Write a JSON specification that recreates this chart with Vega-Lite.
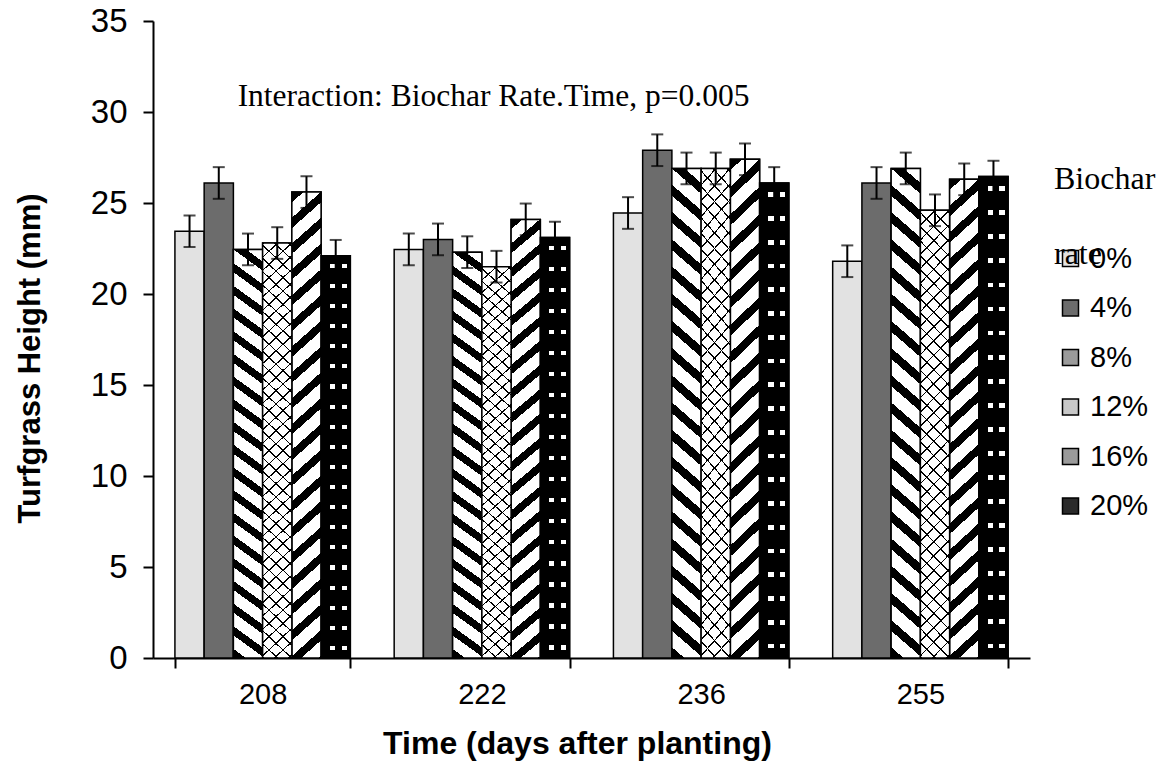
{
  "$schema": "https://vega.github.io/schema/vega-lite/v6.json",
  "width": 877,
  "height": 637,
  "autosize": {"type": "none"},
  "padding": {"left": 153, "top": 21, "right": 131, "bottom": 103},
  "config": {
    "view": {"stroke": null},
    "font": "Liberation Sans",
    "axis": {
      "grid": false,
      "domainColor": "black",
      "domainWidth": 2,
      "tickColor": "black",
      "tickWidth": 2,
      "tickSize": 10,
      "labelColor": "black",
      "titleColor": "black",
      "labelFont": "Liberation Sans",
      "titleFont": "Liberation Sans",
      "labelFontSize": 29,
      "titleFontSize": 31,
      "titleFontWeight": "bold"
    }
  },
  "data": {
    "values": [
      {"time": "208", "rate": "0%", "height": 23.45, "lo": 22.58, "hi": 24.32},
      {"time": "208", "rate": "4%", "height": 26.1, "lo": 25.23, "hi": 26.97},
      {"time": "208", "rate": "8%", "height": 22.45, "lo": 21.58, "hi": 23.32},
      {"time": "208", "rate": "12%", "height": 22.8, "lo": 21.93, "hi": 23.67},
      {"time": "208", "rate": "16%", "height": 25.6, "lo": 24.73, "hi": 26.47},
      {"time": "208", "rate": "20%", "height": 22.1, "lo": 21.23, "hi": 22.97},
      {"time": "222", "rate": "0%", "height": 22.45, "lo": 21.58, "hi": 23.32},
      {"time": "222", "rate": "4%", "height": 23.0, "lo": 22.13, "hi": 23.87},
      {"time": "222", "rate": "8%", "height": 22.3, "lo": 21.43, "hi": 23.17},
      {"time": "222", "rate": "12%", "height": 21.5, "lo": 20.63, "hi": 22.37},
      {"time": "222", "rate": "16%", "height": 24.1, "lo": 23.23, "hi": 24.97},
      {"time": "222", "rate": "20%", "height": 23.1, "lo": 22.23, "hi": 23.97},
      {"time": "236", "rate": "0%", "height": 24.45, "lo": 23.58, "hi": 25.32},
      {"time": "236", "rate": "4%", "height": 27.9, "lo": 27.03, "hi": 28.77},
      {"time": "236", "rate": "8%", "height": 26.9, "lo": 26.03, "hi": 27.77},
      {"time": "236", "rate": "12%", "height": 26.9, "lo": 26.03, "hi": 27.77},
      {"time": "236", "rate": "16%", "height": 27.4, "lo": 26.53, "hi": 28.27},
      {"time": "236", "rate": "20%", "height": 26.1, "lo": 25.23, "hi": 26.97},
      {"time": "255", "rate": "0%", "height": 21.8, "lo": 20.93, "hi": 22.67},
      {"time": "255", "rate": "4%", "height": 26.1, "lo": 25.23, "hi": 26.97},
      {"time": "255", "rate": "8%", "height": 26.9, "lo": 26.03, "hi": 27.77},
      {"time": "255", "rate": "12%", "height": 24.6, "lo": 23.73, "hi": 25.47},
      {"time": "255", "rate": "16%", "height": 26.3, "lo": 25.43, "hi": 27.17},
      {"time": "255", "rate": "20%", "height": 26.45, "lo": 25.58, "hi": 27.32}
    ]
  },
  "layer": [
    {
      "encoding": {
        "x": {
          "field": "time",
          "type": "ordinal",
          "scale": {"paddingInner": 0.2, "paddingOuter": 0.1},
          "axis": {
            "title": "Time (days after planting)",
            "labelAngle": 0,
            "tickBand": "extent",
            "labelPadding": 12,
            "titleFontSize": 32,
            "titleX": 424,
            "titleY": 85,
            "titleBaseline": "middle",
            "titleAlign": "center"
          }
        },
        "xOffset": {
          "field": "rate",
          "type": "nominal",
          "scale": {"domain": ["0%", "4%", "8%", "12%", "16%", "20%"], "paddingInner": 0, "paddingOuter": 0}
        }
      },
      "layer": [
        {
          "mark": {"type": "bar", "stroke": "black", "strokeWidth": 1.5},
          "encoding": {
            "y": {
              "field": "height",
              "type": "quantitative",
              "scale": {"domain": [0, 35], "nice": false},
              "axis": {
                "title": "Turfgrass Height (mm)",
                "values": [0, 5, 10, 15, 20, 25, 30, 35],
                "labelFontSize": 33,
                "labelPadding": 16,
                "titleX": -123,
                "titleY": 337,
                "titleBaseline": "middle",
                "titleAlign": "center"
              }
            },
            "fill": {
              "field": "rate",
              "type": "nominal",
              "scale": {
                "domain": ["0%", "4%", "8%", "12%", "16%", "20%"],
                "range": ["#e2e2e2", "#6c6c6c", "#9a9a9a", "#c8c8c8", "#9a9a9a", "#2a2a2a"]
              },
              "legend": {
                "title": ["Biochar", "rate"],
                "orient": "none",
                "legendX": 901,
                "legendY": 143,
                "padding": 0,
                "titleFont": "Liberation Serif",
                "titleFontSize": 32,
                "titleFontWeight": "normal",
                "titleColor": "black",
                "titleLineHeight": 75,
                "titlePadding": -27,
                "labelFont": "Liberation Sans",
                "labelFontSize": 29,
                "labelColor": "black",
                "labelOffset": 5,
                "symbolType": "square",
                "symbolSize": 256,
                "symbolStrokeColor": "black",
                "symbolStrokeWidth": 1.5,
                "rowPadding": 19.5,
                "encode": {"title": {"update": {"dx": {"value": -2}}}}
              }
            }
          }
        },
        {
          "transform": [{"filter": "datum.rate === '8%'"}],
          "mark": {
            "type": "bar",
            "stroke": "black",
            "strokeWidth": 1.5,
            "fill": {
              "gradient": "linear",
              "x1": 0, "y1": 1, "x2": 0.0575, "y2": -0.1081,
              "stops": [
                {"offset": 0, "color": "#000"}, {"offset": 0.02, "color": "#000"}, {"offset": 0.02, "color": "#fff"}, {"offset": 0.05, "color": "#fff"},
                {"offset": 0.05, "color": "#000"}, {"offset": 0.07, "color": "#000"}, {"offset": 0.07, "color": "#fff"}, {"offset": 0.1, "color": "#fff"},
                {"offset": 0.1, "color": "#000"}, {"offset": 0.12, "color": "#000"}, {"offset": 0.12, "color": "#fff"}, {"offset": 0.15, "color": "#fff"},
                {"offset": 0.15, "color": "#000"}, {"offset": 0.17, "color": "#000"}, {"offset": 0.17, "color": "#fff"}, {"offset": 0.2, "color": "#fff"},
                {"offset": 0.2, "color": "#000"}, {"offset": 0.22, "color": "#000"}, {"offset": 0.22, "color": "#fff"}, {"offset": 0.25, "color": "#fff"},
                {"offset": 0.25, "color": "#000"}, {"offset": 0.27, "color": "#000"}, {"offset": 0.27, "color": "#fff"}, {"offset": 0.3, "color": "#fff"},
                {"offset": 0.3, "color": "#000"}, {"offset": 0.32, "color": "#000"}, {"offset": 0.32, "color": "#fff"}, {"offset": 0.35, "color": "#fff"},
                {"offset": 0.35, "color": "#000"}, {"offset": 0.37, "color": "#000"}, {"offset": 0.37, "color": "#fff"}, {"offset": 0.4, "color": "#fff"},
                {"offset": 0.4, "color": "#000"}, {"offset": 0.42, "color": "#000"}, {"offset": 0.42, "color": "#fff"}, {"offset": 0.45, "color": "#fff"},
                {"offset": 0.45, "color": "#000"}, {"offset": 0.47, "color": "#000"}, {"offset": 0.47, "color": "#fff"}, {"offset": 0.5, "color": "#fff"},
                {"offset": 0.5, "color": "#000"}, {"offset": 0.52, "color": "#000"}, {"offset": 0.52, "color": "#fff"}, {"offset": 0.55, "color": "#fff"},
                {"offset": 0.55, "color": "#000"}, {"offset": 0.57, "color": "#000"}, {"offset": 0.57, "color": "#fff"}, {"offset": 0.6, "color": "#fff"},
                {"offset": 0.6, "color": "#000"}, {"offset": 0.62, "color": "#000"}, {"offset": 0.62, "color": "#fff"}, {"offset": 0.65, "color": "#fff"},
                {"offset": 0.65, "color": "#000"}, {"offset": 0.67, "color": "#000"}, {"offset": 0.67, "color": "#fff"}, {"offset": 0.7, "color": "#fff"},
                {"offset": 0.7, "color": "#000"}, {"offset": 0.72, "color": "#000"}, {"offset": 0.72, "color": "#fff"}, {"offset": 0.75, "color": "#fff"},
                {"offset": 0.75, "color": "#000"}, {"offset": 0.77, "color": "#000"}, {"offset": 0.77, "color": "#fff"}, {"offset": 0.8, "color": "#fff"},
                {"offset": 0.8, "color": "#000"}, {"offset": 0.82, "color": "#000"}, {"offset": 0.82, "color": "#fff"}, {"offset": 0.85, "color": "#fff"},
                {"offset": 0.85, "color": "#000"}, {"offset": 0.87, "color": "#000"}, {"offset": 0.87, "color": "#fff"}, {"offset": 0.9, "color": "#fff"},
                {"offset": 0.9, "color": "#000"}, {"offset": 0.92, "color": "#000"}, {"offset": 0.92, "color": "#fff"}, {"offset": 0.95, "color": "#fff"},
                {"offset": 0.95, "color": "#000"}, {"offset": 0.97, "color": "#000"}, {"offset": 0.97, "color": "#fff"}, {"offset": 1, "color": "#fff"}
              ]
            }
          },
          "encoding": {"y": {"field": "height", "type": "quantitative"}}
        },
        {
          "transform": [{"filter": "datum.rate === '16%'"}],
          "mark": {
            "type": "bar",
            "stroke": "black",
            "strokeWidth": 1.5,
            "fill": {
              "gradient": "linear",
              "x1": 0, "y1": 0, "x2": 0.0617, "y2": 1.1029,
              "stops": [
                {"offset": 0, "color": "#000"}, {"offset": 0.02, "color": "#000"}, {"offset": 0.02, "color": "#fff"}, {"offset": 0.05, "color": "#fff"},
                {"offset": 0.05, "color": "#000"}, {"offset": 0.07, "color": "#000"}, {"offset": 0.07, "color": "#fff"}, {"offset": 0.1, "color": "#fff"},
                {"offset": 0.1, "color": "#000"}, {"offset": 0.12, "color": "#000"}, {"offset": 0.12, "color": "#fff"}, {"offset": 0.15, "color": "#fff"},
                {"offset": 0.15, "color": "#000"}, {"offset": 0.17, "color": "#000"}, {"offset": 0.17, "color": "#fff"}, {"offset": 0.2, "color": "#fff"},
                {"offset": 0.2, "color": "#000"}, {"offset": 0.22, "color": "#000"}, {"offset": 0.22, "color": "#fff"}, {"offset": 0.25, "color": "#fff"},
                {"offset": 0.25, "color": "#000"}, {"offset": 0.27, "color": "#000"}, {"offset": 0.27, "color": "#fff"}, {"offset": 0.3, "color": "#fff"},
                {"offset": 0.3, "color": "#000"}, {"offset": 0.32, "color": "#000"}, {"offset": 0.32, "color": "#fff"}, {"offset": 0.35, "color": "#fff"},
                {"offset": 0.35, "color": "#000"}, {"offset": 0.37, "color": "#000"}, {"offset": 0.37, "color": "#fff"}, {"offset": 0.4, "color": "#fff"},
                {"offset": 0.4, "color": "#000"}, {"offset": 0.42, "color": "#000"}, {"offset": 0.42, "color": "#fff"}, {"offset": 0.45, "color": "#fff"},
                {"offset": 0.45, "color": "#000"}, {"offset": 0.47, "color": "#000"}, {"offset": 0.47, "color": "#fff"}, {"offset": 0.5, "color": "#fff"},
                {"offset": 0.5, "color": "#000"}, {"offset": 0.52, "color": "#000"}, {"offset": 0.52, "color": "#fff"}, {"offset": 0.55, "color": "#fff"},
                {"offset": 0.55, "color": "#000"}, {"offset": 0.57, "color": "#000"}, {"offset": 0.57, "color": "#fff"}, {"offset": 0.6, "color": "#fff"},
                {"offset": 0.6, "color": "#000"}, {"offset": 0.62, "color": "#000"}, {"offset": 0.62, "color": "#fff"}, {"offset": 0.65, "color": "#fff"},
                {"offset": 0.65, "color": "#000"}, {"offset": 0.67, "color": "#000"}, {"offset": 0.67, "color": "#fff"}, {"offset": 0.7, "color": "#fff"},
                {"offset": 0.7, "color": "#000"}, {"offset": 0.72, "color": "#000"}, {"offset": 0.72, "color": "#fff"}, {"offset": 0.75, "color": "#fff"},
                {"offset": 0.75, "color": "#000"}, {"offset": 0.77, "color": "#000"}, {"offset": 0.77, "color": "#fff"}, {"offset": 0.8, "color": "#fff"},
                {"offset": 0.8, "color": "#000"}, {"offset": 0.82, "color": "#000"}, {"offset": 0.82, "color": "#fff"}, {"offset": 0.85, "color": "#fff"},
                {"offset": 0.85, "color": "#000"}, {"offset": 0.87, "color": "#000"}, {"offset": 0.87, "color": "#fff"}, {"offset": 0.9, "color": "#fff"},
                {"offset": 0.9, "color": "#000"}, {"offset": 0.92, "color": "#000"}, {"offset": 0.92, "color": "#fff"}, {"offset": 0.95, "color": "#fff"},
                {"offset": 0.95, "color": "#000"}, {"offset": 0.97, "color": "#000"}, {"offset": 0.97, "color": "#fff"}, {"offset": 1, "color": "#fff"}
              ]
            }
          },
          "encoding": {"y": {"field": "height", "type": "quantitative"}}
        },
        {
          "transform": [{"filter": "datum.rate === '12%'"}],
          "mark": {
            "type": "bar",
            "strokeWidth": 0,
            "fill": {
              "gradient": "linear",
              "x1": 0, "y1": 0, "x2": 0.0852, "y2": 1.2758,
              "stops": [
                {"offset": 0, "color": "#000"}, {"offset": 0.003, "color": "#000"}, {"offset": 0.003, "color": "#fff"}, {"offset": 0.025, "color": "#fff"},
                {"offset": 0.025, "color": "#000"}, {"offset": 0.028, "color": "#000"}, {"offset": 0.028, "color": "#fff"}, {"offset": 0.05, "color": "#fff"},
                {"offset": 0.05, "color": "#000"}, {"offset": 0.053, "color": "#000"}, {"offset": 0.053, "color": "#fff"}, {"offset": 0.075, "color": "#fff"},
                {"offset": 0.075, "color": "#000"}, {"offset": 0.078, "color": "#000"}, {"offset": 0.078, "color": "#fff"}, {"offset": 0.1, "color": "#fff"},
                {"offset": 0.1, "color": "#000"}, {"offset": 0.103, "color": "#000"}, {"offset": 0.103, "color": "#fff"}, {"offset": 0.125, "color": "#fff"},
                {"offset": 0.125, "color": "#000"}, {"offset": 0.128, "color": "#000"}, {"offset": 0.128, "color": "#fff"}, {"offset": 0.15, "color": "#fff"},
                {"offset": 0.15, "color": "#000"}, {"offset": 0.153, "color": "#000"}, {"offset": 0.153, "color": "#fff"}, {"offset": 0.175, "color": "#fff"},
                {"offset": 0.175, "color": "#000"}, {"offset": 0.178, "color": "#000"}, {"offset": 0.178, "color": "#fff"}, {"offset": 0.2, "color": "#fff"},
                {"offset": 0.2, "color": "#000"}, {"offset": 0.203, "color": "#000"}, {"offset": 0.203, "color": "#fff"}, {"offset": 0.225, "color": "#fff"},
                {"offset": 0.225, "color": "#000"}, {"offset": 0.228, "color": "#000"}, {"offset": 0.228, "color": "#fff"}, {"offset": 0.25, "color": "#fff"},
                {"offset": 0.25, "color": "#000"}, {"offset": 0.253, "color": "#000"}, {"offset": 0.253, "color": "#fff"}, {"offset": 0.275, "color": "#fff"},
                {"offset": 0.275, "color": "#000"}, {"offset": 0.278, "color": "#000"}, {"offset": 0.278, "color": "#fff"}, {"offset": 0.3, "color": "#fff"},
                {"offset": 0.3, "color": "#000"}, {"offset": 0.303, "color": "#000"}, {"offset": 0.303, "color": "#fff"}, {"offset": 0.325, "color": "#fff"},
                {"offset": 0.325, "color": "#000"}, {"offset": 0.328, "color": "#000"}, {"offset": 0.328, "color": "#fff"}, {"offset": 0.35, "color": "#fff"},
                {"offset": 0.35, "color": "#000"}, {"offset": 0.353, "color": "#000"}, {"offset": 0.353, "color": "#fff"}, {"offset": 0.375, "color": "#fff"},
                {"offset": 0.375, "color": "#000"}, {"offset": 0.378, "color": "#000"}, {"offset": 0.378, "color": "#fff"}, {"offset": 0.4, "color": "#fff"},
                {"offset": 0.4, "color": "#000"}, {"offset": 0.403, "color": "#000"}, {"offset": 0.403, "color": "#fff"}, {"offset": 0.425, "color": "#fff"},
                {"offset": 0.425, "color": "#000"}, {"offset": 0.428, "color": "#000"}, {"offset": 0.428, "color": "#fff"}, {"offset": 0.45, "color": "#fff"},
                {"offset": 0.45, "color": "#000"}, {"offset": 0.453, "color": "#000"}, {"offset": 0.453, "color": "#fff"}, {"offset": 0.475, "color": "#fff"},
                {"offset": 0.475, "color": "#000"}, {"offset": 0.478, "color": "#000"}, {"offset": 0.478, "color": "#fff"}, {"offset": 0.5, "color": "#fff"},
                {"offset": 0.5, "color": "#000"}, {"offset": 0.503, "color": "#000"}, {"offset": 0.503, "color": "#fff"}, {"offset": 0.525, "color": "#fff"},
                {"offset": 0.525, "color": "#000"}, {"offset": 0.528, "color": "#000"}, {"offset": 0.528, "color": "#fff"}, {"offset": 0.55, "color": "#fff"},
                {"offset": 0.55, "color": "#000"}, {"offset": 0.553, "color": "#000"}, {"offset": 0.553, "color": "#fff"}, {"offset": 0.575, "color": "#fff"},
                {"offset": 0.575, "color": "#000"}, {"offset": 0.578, "color": "#000"}, {"offset": 0.578, "color": "#fff"}, {"offset": 0.6, "color": "#fff"},
                {"offset": 0.6, "color": "#000"}, {"offset": 0.603, "color": "#000"}, {"offset": 0.603, "color": "#fff"}, {"offset": 0.625, "color": "#fff"},
                {"offset": 0.625, "color": "#000"}, {"offset": 0.628, "color": "#000"}, {"offset": 0.628, "color": "#fff"}, {"offset": 0.65, "color": "#fff"},
                {"offset": 0.65, "color": "#000"}, {"offset": 0.653, "color": "#000"}, {"offset": 0.653, "color": "#fff"}, {"offset": 0.675, "color": "#fff"},
                {"offset": 0.675, "color": "#000"}, {"offset": 0.678, "color": "#000"}, {"offset": 0.678, "color": "#fff"}, {"offset": 0.7, "color": "#fff"},
                {"offset": 0.7, "color": "#000"}, {"offset": 0.703, "color": "#000"}, {"offset": 0.703, "color": "#fff"}, {"offset": 0.725, "color": "#fff"},
                {"offset": 0.725, "color": "#000"}, {"offset": 0.728, "color": "#000"}, {"offset": 0.728, "color": "#fff"}, {"offset": 0.75, "color": "#fff"},
                {"offset": 0.75, "color": "#000"}, {"offset": 0.753, "color": "#000"}, {"offset": 0.753, "color": "#fff"}, {"offset": 0.775, "color": "#fff"},
                {"offset": 0.775, "color": "#000"}, {"offset": 0.778, "color": "#000"}, {"offset": 0.778, "color": "#fff"}, {"offset": 0.8, "color": "#fff"},
                {"offset": 0.8, "color": "#000"}, {"offset": 0.803, "color": "#000"}, {"offset": 0.803, "color": "#fff"}, {"offset": 0.825, "color": "#fff"},
                {"offset": 0.825, "color": "#000"}, {"offset": 0.828, "color": "#000"}, {"offset": 0.828, "color": "#fff"}, {"offset": 0.85, "color": "#fff"},
                {"offset": 0.85, "color": "#000"}, {"offset": 0.853, "color": "#000"}, {"offset": 0.853, "color": "#fff"}, {"offset": 0.875, "color": "#fff"},
                {"offset": 0.875, "color": "#000"}, {"offset": 0.878, "color": "#000"}, {"offset": 0.878, "color": "#fff"}, {"offset": 0.9, "color": "#fff"},
                {"offset": 0.9, "color": "#000"}, {"offset": 0.903, "color": "#000"}, {"offset": 0.903, "color": "#fff"}, {"offset": 0.925, "color": "#fff"},
                {"offset": 0.925, "color": "#000"}, {"offset": 0.928, "color": "#000"}, {"offset": 0.928, "color": "#fff"}, {"offset": 0.95, "color": "#fff"},
                {"offset": 0.95, "color": "#000"}, {"offset": 0.953, "color": "#000"}, {"offset": 0.953, "color": "#fff"}, {"offset": 0.975, "color": "#fff"},
                {"offset": 0.975, "color": "#000"}, {"offset": 0.978, "color": "#000"}, {"offset": 0.978, "color": "#fff"}, {"offset": 1, "color": "#fff"}
              ]
            }
          },
          "encoding": {"y": {"field": "height", "type": "quantitative"}}
        },
        {
          "transform": [{"filter": "datum.rate === '12%'"}],
          "mark": {
            "type": "bar",
            "stroke": "black",
            "strokeWidth": 1.5,
            "fill": {
              "gradient": "linear",
              "x1": 0, "y1": 1, "x2": 0.0852, "y2": -0.2758,
              "stops": [
                {"offset": 0, "color": "#000"}, {"offset": 0.003, "color": "#000"}, {"offset": 0.003, "color": "rgba(0,0,0,0)"}, {"offset": 0.025, "color": "rgba(0,0,0,0)"},
                {"offset": 0.025, "color": "#000"}, {"offset": 0.028, "color": "#000"}, {"offset": 0.028, "color": "rgba(0,0,0,0)"}, {"offset": 0.05, "color": "rgba(0,0,0,0)"},
                {"offset": 0.05, "color": "#000"}, {"offset": 0.053, "color": "#000"}, {"offset": 0.053, "color": "rgba(0,0,0,0)"}, {"offset": 0.075, "color": "rgba(0,0,0,0)"},
                {"offset": 0.075, "color": "#000"}, {"offset": 0.078, "color": "#000"}, {"offset": 0.078, "color": "rgba(0,0,0,0)"}, {"offset": 0.1, "color": "rgba(0,0,0,0)"},
                {"offset": 0.1, "color": "#000"}, {"offset": 0.103, "color": "#000"}, {"offset": 0.103, "color": "rgba(0,0,0,0)"}, {"offset": 0.125, "color": "rgba(0,0,0,0)"},
                {"offset": 0.125, "color": "#000"}, {"offset": 0.128, "color": "#000"}, {"offset": 0.128, "color": "rgba(0,0,0,0)"}, {"offset": 0.15, "color": "rgba(0,0,0,0)"},
                {"offset": 0.15, "color": "#000"}, {"offset": 0.153, "color": "#000"}, {"offset": 0.153, "color": "rgba(0,0,0,0)"}, {"offset": 0.175, "color": "rgba(0,0,0,0)"},
                {"offset": 0.175, "color": "#000"}, {"offset": 0.178, "color": "#000"}, {"offset": 0.178, "color": "rgba(0,0,0,0)"}, {"offset": 0.2, "color": "rgba(0,0,0,0)"},
                {"offset": 0.2, "color": "#000"}, {"offset": 0.203, "color": "#000"}, {"offset": 0.203, "color": "rgba(0,0,0,0)"}, {"offset": 0.225, "color": "rgba(0,0,0,0)"},
                {"offset": 0.225, "color": "#000"}, {"offset": 0.228, "color": "#000"}, {"offset": 0.228, "color": "rgba(0,0,0,0)"}, {"offset": 0.25, "color": "rgba(0,0,0,0)"},
                {"offset": 0.25, "color": "#000"}, {"offset": 0.253, "color": "#000"}, {"offset": 0.253, "color": "rgba(0,0,0,0)"}, {"offset": 0.275, "color": "rgba(0,0,0,0)"},
                {"offset": 0.275, "color": "#000"}, {"offset": 0.278, "color": "#000"}, {"offset": 0.278, "color": "rgba(0,0,0,0)"}, {"offset": 0.3, "color": "rgba(0,0,0,0)"},
                {"offset": 0.3, "color": "#000"}, {"offset": 0.303, "color": "#000"}, {"offset": 0.303, "color": "rgba(0,0,0,0)"}, {"offset": 0.325, "color": "rgba(0,0,0,0)"},
                {"offset": 0.325, "color": "#000"}, {"offset": 0.328, "color": "#000"}, {"offset": 0.328, "color": "rgba(0,0,0,0)"}, {"offset": 0.35, "color": "rgba(0,0,0,0)"},
                {"offset": 0.35, "color": "#000"}, {"offset": 0.353, "color": "#000"}, {"offset": 0.353, "color": "rgba(0,0,0,0)"}, {"offset": 0.375, "color": "rgba(0,0,0,0)"},
                {"offset": 0.375, "color": "#000"}, {"offset": 0.378, "color": "#000"}, {"offset": 0.378, "color": "rgba(0,0,0,0)"}, {"offset": 0.4, "color": "rgba(0,0,0,0)"},
                {"offset": 0.4, "color": "#000"}, {"offset": 0.403, "color": "#000"}, {"offset": 0.403, "color": "rgba(0,0,0,0)"}, {"offset": 0.425, "color": "rgba(0,0,0,0)"},
                {"offset": 0.425, "color": "#000"}, {"offset": 0.428, "color": "#000"}, {"offset": 0.428, "color": "rgba(0,0,0,0)"}, {"offset": 0.45, "color": "rgba(0,0,0,0)"},
                {"offset": 0.45, "color": "#000"}, {"offset": 0.453, "color": "#000"}, {"offset": 0.453, "color": "rgba(0,0,0,0)"}, {"offset": 0.475, "color": "rgba(0,0,0,0)"},
                {"offset": 0.475, "color": "#000"}, {"offset": 0.478, "color": "#000"}, {"offset": 0.478, "color": "rgba(0,0,0,0)"}, {"offset": 0.5, "color": "rgba(0,0,0,0)"},
                {"offset": 0.5, "color": "#000"}, {"offset": 0.503, "color": "#000"}, {"offset": 0.503, "color": "rgba(0,0,0,0)"}, {"offset": 0.525, "color": "rgba(0,0,0,0)"},
                {"offset": 0.525, "color": "#000"}, {"offset": 0.528, "color": "#000"}, {"offset": 0.528, "color": "rgba(0,0,0,0)"}, {"offset": 0.55, "color": "rgba(0,0,0,0)"},
                {"offset": 0.55, "color": "#000"}, {"offset": 0.553, "color": "#000"}, {"offset": 0.553, "color": "rgba(0,0,0,0)"}, {"offset": 0.575, "color": "rgba(0,0,0,0)"},
                {"offset": 0.575, "color": "#000"}, {"offset": 0.578, "color": "#000"}, {"offset": 0.578, "color": "rgba(0,0,0,0)"}, {"offset": 0.6, "color": "rgba(0,0,0,0)"},
                {"offset": 0.6, "color": "#000"}, {"offset": 0.603, "color": "#000"}, {"offset": 0.603, "color": "rgba(0,0,0,0)"}, {"offset": 0.625, "color": "rgba(0,0,0,0)"},
                {"offset": 0.625, "color": "#000"}, {"offset": 0.628, "color": "#000"}, {"offset": 0.628, "color": "rgba(0,0,0,0)"}, {"offset": 0.65, "color": "rgba(0,0,0,0)"},
                {"offset": 0.65, "color": "#000"}, {"offset": 0.653, "color": "#000"}, {"offset": 0.653, "color": "rgba(0,0,0,0)"}, {"offset": 0.675, "color": "rgba(0,0,0,0)"},
                {"offset": 0.675, "color": "#000"}, {"offset": 0.678, "color": "#000"}, {"offset": 0.678, "color": "rgba(0,0,0,0)"}, {"offset": 0.7, "color": "rgba(0,0,0,0)"},
                {"offset": 0.7, "color": "#000"}, {"offset": 0.703, "color": "#000"}, {"offset": 0.703, "color": "rgba(0,0,0,0)"}, {"offset": 0.725, "color": "rgba(0,0,0,0)"},
                {"offset": 0.725, "color": "#000"}, {"offset": 0.728, "color": "#000"}, {"offset": 0.728, "color": "rgba(0,0,0,0)"}, {"offset": 0.75, "color": "rgba(0,0,0,0)"},
                {"offset": 0.75, "color": "#000"}, {"offset": 0.753, "color": "#000"}, {"offset": 0.753, "color": "rgba(0,0,0,0)"}, {"offset": 0.775, "color": "rgba(0,0,0,0)"},
                {"offset": 0.775, "color": "#000"}, {"offset": 0.778, "color": "#000"}, {"offset": 0.778, "color": "rgba(0,0,0,0)"}, {"offset": 0.8, "color": "rgba(0,0,0,0)"},
                {"offset": 0.8, "color": "#000"}, {"offset": 0.803, "color": "#000"}, {"offset": 0.803, "color": "rgba(0,0,0,0)"}, {"offset": 0.825, "color": "rgba(0,0,0,0)"},
                {"offset": 0.825, "color": "#000"}, {"offset": 0.828, "color": "#000"}, {"offset": 0.828, "color": "rgba(0,0,0,0)"}, {"offset": 0.85, "color": "rgba(0,0,0,0)"},
                {"offset": 0.85, "color": "#000"}, {"offset": 0.853, "color": "#000"}, {"offset": 0.853, "color": "rgba(0,0,0,0)"}, {"offset": 0.875, "color": "rgba(0,0,0,0)"},
                {"offset": 0.875, "color": "#000"}, {"offset": 0.878, "color": "#000"}, {"offset": 0.878, "color": "rgba(0,0,0,0)"}, {"offset": 0.9, "color": "rgba(0,0,0,0)"},
                {"offset": 0.9, "color": "#000"}, {"offset": 0.903, "color": "#000"}, {"offset": 0.903, "color": "rgba(0,0,0,0)"}, {"offset": 0.925, "color": "rgba(0,0,0,0)"},
                {"offset": 0.925, "color": "#000"}, {"offset": 0.928, "color": "#000"}, {"offset": 0.928, "color": "rgba(0,0,0,0)"}, {"offset": 0.95, "color": "rgba(0,0,0,0)"},
                {"offset": 0.95, "color": "#000"}, {"offset": 0.953, "color": "#000"}, {"offset": 0.953, "color": "rgba(0,0,0,0)"}, {"offset": 0.975, "color": "rgba(0,0,0,0)"},
                {"offset": 0.975, "color": "#000"}, {"offset": 0.978, "color": "#000"}, {"offset": 0.978, "color": "rgba(0,0,0,0)"}, {"offset": 1, "color": "rgba(0,0,0,0)"}
              ]
            }
          },
          "encoding": {"y": {"field": "height", "type": "quantitative"}}
        },
        {
          "transform": [{"filter": "datum.rate === '20%'"}],
          "mark": {
            "type": "bar",
            "strokeWidth": 0,
            "fill": {
              "gradient": "linear",
              "x1": 0, "y1": 0, "x2": 1, "y2": 0,
              "stops": [
                {"offset": 0, "color": "#000"}, {"offset": 0.3, "color": "#000"}, {"offset": 0.3, "color": "#fff"}, {"offset": 0.48, "color": "#fff"},
                {"offset": 0.48, "color": "#000"}, {"offset": 0.7, "color": "#000"}, {"offset": 0.7, "color": "#fff"}, {"offset": 0.88, "color": "#fff"},
                {"offset": 0.88, "color": "#000"}, {"offset": 1, "color": "#000"}
              ]
            }
          },
          "encoding": {"y": {"field": "height", "type": "quantitative"}}
        },
        {
          "transform": [{"filter": "datum.rate === '20%'"}],
          "mark": {
            "type": "bar",
            "stroke": "black",
            "strokeWidth": 1.5,
            "fill": {
              "gradient": "linear",
              "x1": 0, "y1": 0, "x2": 0, "y2": 1,
              "stops": [
                {"offset": 0, "color": "#000"},
                {"offset": 0.02, "color": "#000"}, {"offset": 0.02, "color": "rgba(0,0,0,0)"}, {"offset": 0.03, "color": "rgba(0,0,0,0)"}, {"offset": 0.03, "color": "#000"},
                {"offset": 0.07, "color": "#000"}, {"offset": 0.07, "color": "rgba(0,0,0,0)"}, {"offset": 0.08, "color": "rgba(0,0,0,0)"}, {"offset": 0.08, "color": "#000"},
                {"offset": 0.12, "color": "#000"}, {"offset": 0.12, "color": "rgba(0,0,0,0)"}, {"offset": 0.13, "color": "rgba(0,0,0,0)"}, {"offset": 0.13, "color": "#000"},
                {"offset": 0.17, "color": "#000"}, {"offset": 0.17, "color": "rgba(0,0,0,0)"}, {"offset": 0.18, "color": "rgba(0,0,0,0)"}, {"offset": 0.18, "color": "#000"},
                {"offset": 0.22, "color": "#000"}, {"offset": 0.22, "color": "rgba(0,0,0,0)"}, {"offset": 0.23, "color": "rgba(0,0,0,0)"}, {"offset": 0.23, "color": "#000"},
                {"offset": 0.27, "color": "#000"}, {"offset": 0.27, "color": "rgba(0,0,0,0)"}, {"offset": 0.28, "color": "rgba(0,0,0,0)"}, {"offset": 0.28, "color": "#000"},
                {"offset": 0.32, "color": "#000"}, {"offset": 0.32, "color": "rgba(0,0,0,0)"}, {"offset": 0.33, "color": "rgba(0,0,0,0)"}, {"offset": 0.33, "color": "#000"},
                {"offset": 0.37, "color": "#000"}, {"offset": 0.37, "color": "rgba(0,0,0,0)"}, {"offset": 0.38, "color": "rgba(0,0,0,0)"}, {"offset": 0.38, "color": "#000"},
                {"offset": 0.42, "color": "#000"}, {"offset": 0.42, "color": "rgba(0,0,0,0)"}, {"offset": 0.43, "color": "rgba(0,0,0,0)"}, {"offset": 0.43, "color": "#000"},
                {"offset": 0.47, "color": "#000"}, {"offset": 0.47, "color": "rgba(0,0,0,0)"}, {"offset": 0.48, "color": "rgba(0,0,0,0)"}, {"offset": 0.48, "color": "#000"},
                {"offset": 0.52, "color": "#000"}, {"offset": 0.52, "color": "rgba(0,0,0,0)"}, {"offset": 0.53, "color": "rgba(0,0,0,0)"}, {"offset": 0.53, "color": "#000"},
                {"offset": 0.57, "color": "#000"}, {"offset": 0.57, "color": "rgba(0,0,0,0)"}, {"offset": 0.58, "color": "rgba(0,0,0,0)"}, {"offset": 0.58, "color": "#000"},
                {"offset": 0.62, "color": "#000"}, {"offset": 0.62, "color": "rgba(0,0,0,0)"}, {"offset": 0.63, "color": "rgba(0,0,0,0)"}, {"offset": 0.63, "color": "#000"},
                {"offset": 0.67, "color": "#000"}, {"offset": 0.67, "color": "rgba(0,0,0,0)"}, {"offset": 0.68, "color": "rgba(0,0,0,0)"}, {"offset": 0.68, "color": "#000"},
                {"offset": 0.72, "color": "#000"}, {"offset": 0.72, "color": "rgba(0,0,0,0)"}, {"offset": 0.73, "color": "rgba(0,0,0,0)"}, {"offset": 0.73, "color": "#000"},
                {"offset": 0.77, "color": "#000"}, {"offset": 0.77, "color": "rgba(0,0,0,0)"}, {"offset": 0.78, "color": "rgba(0,0,0,0)"}, {"offset": 0.78, "color": "#000"},
                {"offset": 0.82, "color": "#000"}, {"offset": 0.82, "color": "rgba(0,0,0,0)"}, {"offset": 0.83, "color": "rgba(0,0,0,0)"}, {"offset": 0.83, "color": "#000"},
                {"offset": 0.87, "color": "#000"}, {"offset": 0.87, "color": "rgba(0,0,0,0)"}, {"offset": 0.88, "color": "rgba(0,0,0,0)"}, {"offset": 0.88, "color": "#000"},
                {"offset": 0.92, "color": "#000"}, {"offset": 0.92, "color": "rgba(0,0,0,0)"}, {"offset": 0.93, "color": "rgba(0,0,0,0)"}, {"offset": 0.93, "color": "#000"},
                {"offset": 0.97, "color": "#000"}, {"offset": 0.97, "color": "rgba(0,0,0,0)"}, {"offset": 0.98, "color": "rgba(0,0,0,0)"}, {"offset": 0.98, "color": "#000"},
                {"offset": 1, "color": "#000"}
              ]
            }
          },
          "encoding": {"y": {"field": "height", "type": "quantitative"}}
        },
        {
          "mark": {"type": "rule", "color": "black", "strokeWidth": 2},
          "encoding": {
            "y": {"field": "lo", "type": "quantitative"},
            "y2": {"field": "hi"}
          }
        },
        {
          "mark": {"type": "tick", "color": "black", "orient": "horizontal", "size": 12, "thickness": 2},
          "encoding": {"y": {"field": "hi", "type": "quantitative"}}
        },
        {
          "mark": {"type": "tick", "color": "black", "orient": "horizontal", "size": 12, "thickness": 2},
          "encoding": {"y": {"field": "lo", "type": "quantitative"}}
        }
      ]
    },
    {
      "data": {"values": [{"label": "Interaction: Biochar Rate.Time, p=0.005"}]},
      "mark": {"type": "text", "font": "Liberation Serif", "fontSize": 31.5, "align": "left", "baseline": "alphabetic", "dx": -25, "color": "black"},
      "encoding": {
        "x": {"datum": "208", "type": "ordinal"},
        "y": {"datum": 30.33, "type": "quantitative"},
        "text": {"field": "label"}
      }
    }
  ]
}
